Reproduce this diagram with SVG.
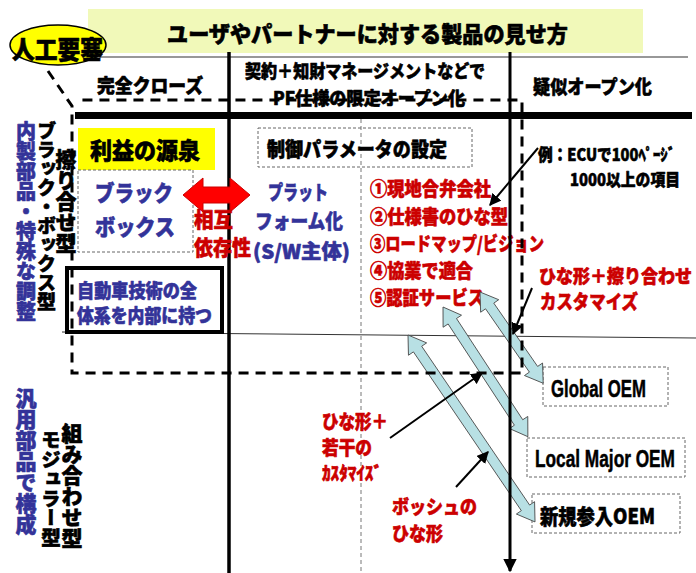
<svg xmlns="http://www.w3.org/2000/svg" width="696" height="573" viewBox="0 0 696 573">
<style>
text{font-family:"Noto Sans CJK JP","Noto Sans CJK SC",sans-serif;font-weight:900;stroke-width:0.6;stroke-linejoin:round}
.bk{fill:#000;stroke:#000}
.nv{fill:#333399;stroke:#333399}
.rd{fill:#cc0000;stroke:#cc0000}
.vt{writing-mode:vertical-rl}
.dbox{fill:none;stroke:#666;stroke-width:1;stroke-dasharray:3 2}
.bigdash{fill:none;stroke:#000;stroke-width:3;stroke-dasharray:10 7}
.ptr{fill:none;stroke:#000;stroke-width:2;marker-end:url(#ah)}
.blue{fill:#b8e0e4;stroke:#444;stroke-width:0.8}
.oem{font-family:"Liberation Sans",Arial,sans-serif;font-weight:bold;font-size:19px;fill:#000;stroke:#000;stroke-width:0.4}
</style>
<defs>
<marker id="ah" viewBox="0 0 10 10" refX="9" refY="5" markerWidth="6" markerHeight="6" orient="auto" markerUnits="strokeWidth">
<path d="M0,0 L10,5 L0,10 z" fill="#000"/>
</marker>
<marker id="ah2" viewBox="0 0 10 10" refX="9" refY="5" markerWidth="4.5" markerHeight="4.5" orient="auto" markerUnits="strokeWidth">
<path d="M0,0 L10,5 L0,10 z" fill="#000"/>
</marker>
</defs>
<rect width="696" height="573" fill="#fff"/>

<g id="title">
<rect x="88" y="9" width="555" height="44" fill="#f1f9b9"/>
<text x="167" y="42" font-size="22" textLength="401" lengthAdjust="spacingAndGlyphs" class="bk">ユーザやパートナーに対する製品の見せ方</text>
</g>

<g id="grid">
<line x1="77" y1="57" x2="688" y2="57" stroke="#333" stroke-width="1.2"/>
<line x1="62" y1="332" x2="696" y2="338" stroke="#333" stroke-width="1"/>
<rect x="75" y="112" width="617" height="7" fill="#000"/>
<line x1="229" y1="52" x2="229" y2="573" stroke="#000" stroke-width="3.5"/>
<line x1="361" y1="119" x2="361" y2="573" stroke="#777" stroke-width="1" stroke-dasharray="4 3"/>
</g>

<g id="headers">
<text x="97" y="93" font-size="19" textLength="106" lengthAdjust="spacingAndGlyphs" class="bk">完全クローズ</text>
<text x="245" y="78" font-size="18" textLength="240" lengthAdjust="spacingAndGlyphs" class="bk">契約＋知財マネージメントなどで</text>
<text x="273" y="105" font-size="18" textLength="192" lengthAdjust="spacingAndGlyphs" class="bk">PF仕様の限定オープン化</text>
<text x="533" y="94" font-size="19" textLength="119" lengthAdjust="spacingAndGlyphs" class="bk">疑似オープン化</text>
</g>

<g id="callout">
<ellipse cx="58" cy="45" rx="48" ry="20" fill="#ffff00" stroke="#000" stroke-width="1.5"/>
<text x="12" y="59" font-size="25" textLength="91" lengthAdjust="spacingAndGlyphs" class="bk">人工要塞</text>
</g>

<g id="side-labels">
<text x="26" y="121" font-size="20" class="nv vt">内製部品・特殊な調整</text>
<text x="46.5" y="121" font-size="19" class="bk vt">ブラック・ボックス型</text>
<text x="66" y="149" font-size="21" class="bk vt">擦り合せ型</text>
<text x="26" y="388" font-size="21" class="nv vt">汎用部品で構成</text>
<text x="51" y="430" font-size="19.5" class="bk vt">モジュラー型</text>
<text x="72" y="423" font-size="21" class="bk vt">組み合わせ型</text>
</g>

<g id="profit">
<rect x="78" y="128" width="137" height="42" fill="#ffff00"/>
<text x="90" y="159" font-size="23" textLength="110" lengthAdjust="spacingAndGlyphs" class="bk">利益の源泉</text>
</g>

<g id="blackbox">
<rect x="78" y="170" width="115" height="82" fill="#fff" class="dbox"/>
<text x="95" y="201" font-size="22" textLength="78" lengthAdjust="spacingAndGlyphs" class="nv">ブラック</text>
<text x="95" y="235" font-size="22" textLength="80" lengthAdjust="spacingAndGlyphs" class="nv">ボックス</text>
</g>

<g id="interdep">
<polygon points="183,195 203,178 203,187 230,187 230,178 250,195 230,212 230,203 203,203 203,212" fill="#ff0000" stroke="#cc0000" stroke-width="1"/>
<text x="194" y="227" font-size="21" textLength="39" lengthAdjust="spacingAndGlyphs" class="rd">相互</text>
<text x="194" y="255" font-size="21" textLength="57" lengthAdjust="spacingAndGlyphs" class="rd">依存性</text>
</g>

<g id="allsystem">
<rect x="67" y="268" width="155" height="64" fill="none" stroke="#000" stroke-width="4"/>
<text x="77" y="298" font-size="19" textLength="120" lengthAdjust="spacingAndGlyphs" class="nv">自動車技術の全</text>
<text x="77" y="323" font-size="19" textLength="135" lengthAdjust="spacingAndGlyphs" class="nv">体系を内部に持つ</text>
</g>

<g id="platform">
<text x="268" y="200" font-size="20" textLength="60" lengthAdjust="spacingAndGlyphs" class="nv">プラット</text>
<text x="255" y="229" font-size="20" textLength="88" lengthAdjust="spacingAndGlyphs" class="nv">フォーム化</text>
<text x="253" y="259" font-size="20" textLength="97" lengthAdjust="spacingAndGlyphs" class="nv">(S/W主体)</text>
</g>

<g id="params">
<rect x="258" y="128" width="214" height="39" fill="#ffff00" class="dbox"/>
<text x="267" y="157" font-size="20" textLength="180" lengthAdjust="spacingAndGlyphs" class="bk">制御パラメータの設定</text>
</g>

<g id="list">
<text x="370" y="196" font-size="19" textLength="121" lengthAdjust="spacingAndGlyphs" class="rd">①現地合弁会社</text>
<text x="370" y="224" font-size="19" textLength="138" lengthAdjust="spacingAndGlyphs" class="rd">②仕様書のひな型</text>
<text x="370" y="251" font-size="19" textLength="174" lengthAdjust="spacingAndGlyphs" class="rd">③ロードマップ/ビジョン</text>
<text x="370" y="278" font-size="19" textLength="103" lengthAdjust="spacingAndGlyphs" class="rd">④協業で適合</text>
<text x="370" y="305" font-size="19" textLength="114" lengthAdjust="spacingAndGlyphs" class="rd">⑤認証サービス</text>
</g>

<g id="example">
<text x="538" y="161" font-size="17" textLength="137" lengthAdjust="spacingAndGlyphs" class="bk">例：ECUで100ﾍﾟｰｼﾞ</text>
<text x="570" y="186" font-size="17" textLength="110" lengthAdjust="spacingAndGlyphs" class="bk">1000以上の項目</text>
</g>

<g id="custom-note">
<text x="539" y="283" font-size="17" textLength="153" lengthAdjust="spacingAndGlyphs" class="rd" transform="translate(0,-28.3) scale(1,1.1)">ひな形＋擦り合わせ</text>
<text x="540" y="309" font-size="19" textLength="98" lengthAdjust="spacingAndGlyphs" class="rd">カスタマイズ</text>
</g>

<g id="slight-custom">
<text x="322" y="429" font-size="19" textLength="66" lengthAdjust="spacingAndGlyphs" class="rd">ひな形＋</text>
<text x="322" y="455" font-size="19" textLength="50" lengthAdjust="spacingAndGlyphs" class="rd">若干の</text>
<text x="322" y="480" font-size="18" textLength="60" lengthAdjust="spacingAndGlyphs" class="rd">ｶｽﾀﾏｲｽﾞ</text>
</g>

<g id="bosch">
<text x="392" y="514" font-size="19" textLength="85" lengthAdjust="spacingAndGlyphs" class="rd">ボッシュの</text>
<text x="392" y="541" font-size="19" textLength="51" lengthAdjust="spacingAndGlyphs" class="rd">ひな形</text>
</g>

<g id="global-oem">
<rect x="543" y="367" width="125" height="39" fill="#fff" class="dbox"/>
<text x="0" y="0" transform="translate(551,397) scale(1,1.25)" textLength="95" lengthAdjust="spacingAndGlyphs" class="oem">Global OEM</text>
</g>
<g id="local-oem">
<rect x="527" y="438" width="158" height="39" fill="#fff" class="dbox"/>
<text x="0" y="0" transform="translate(535,467) scale(1,1.25)" textLength="140" lengthAdjust="spacingAndGlyphs" class="oem">Local Major OEM</text>
</g>
<g id="new-oem">
<rect x="532" y="494" width="148" height="39" fill="#fff" class="dbox"/>
<text x="540" y="524" font-size="21" textLength="115" lengthAdjust="spacingAndGlyphs" class="bk">新規参入OEM</text>
</g>

<g id="connectors">
<polygon class="blue" transform="translate(480,292) rotate(55.3)" points="0,0 17,-11 17,-5 94,-5 94,-11 111,0 94,11 94,5 17,5 17,11"/>
<polygon class="blue" transform="translate(443,307) rotate(56.8)" points="0,0 17,-11 17,-5 138,-5 138,-11 155,0 138,11 138,5 17,5 17,11"/>
<polygon class="blue" transform="translate(408,335) rotate(55.8)" points="0,0 17,-11 17,-5 209,-5 209,-11 226,0 209,11 209,5 17,5 17,11"/>
<line x1="510" y1="52" x2="510" y2="571" stroke="#000" stroke-width="3" marker-end="url(#ah2)"/>
<path class="bigdash" d="M48,71 L72,106 L72,373 L522,373 L522,100 L80,100"/>
<line class="ptr" x1="538" y1="148" x2="490" y2="205"/>
<line class="ptr" x1="532" y1="288" x2="513" y2="334"/>
<line class="ptr" x1="390" y1="438" x2="482" y2="373"/>
<line class="ptr" x1="456" y1="487" x2="488" y2="452"/>
</g>
</svg>
